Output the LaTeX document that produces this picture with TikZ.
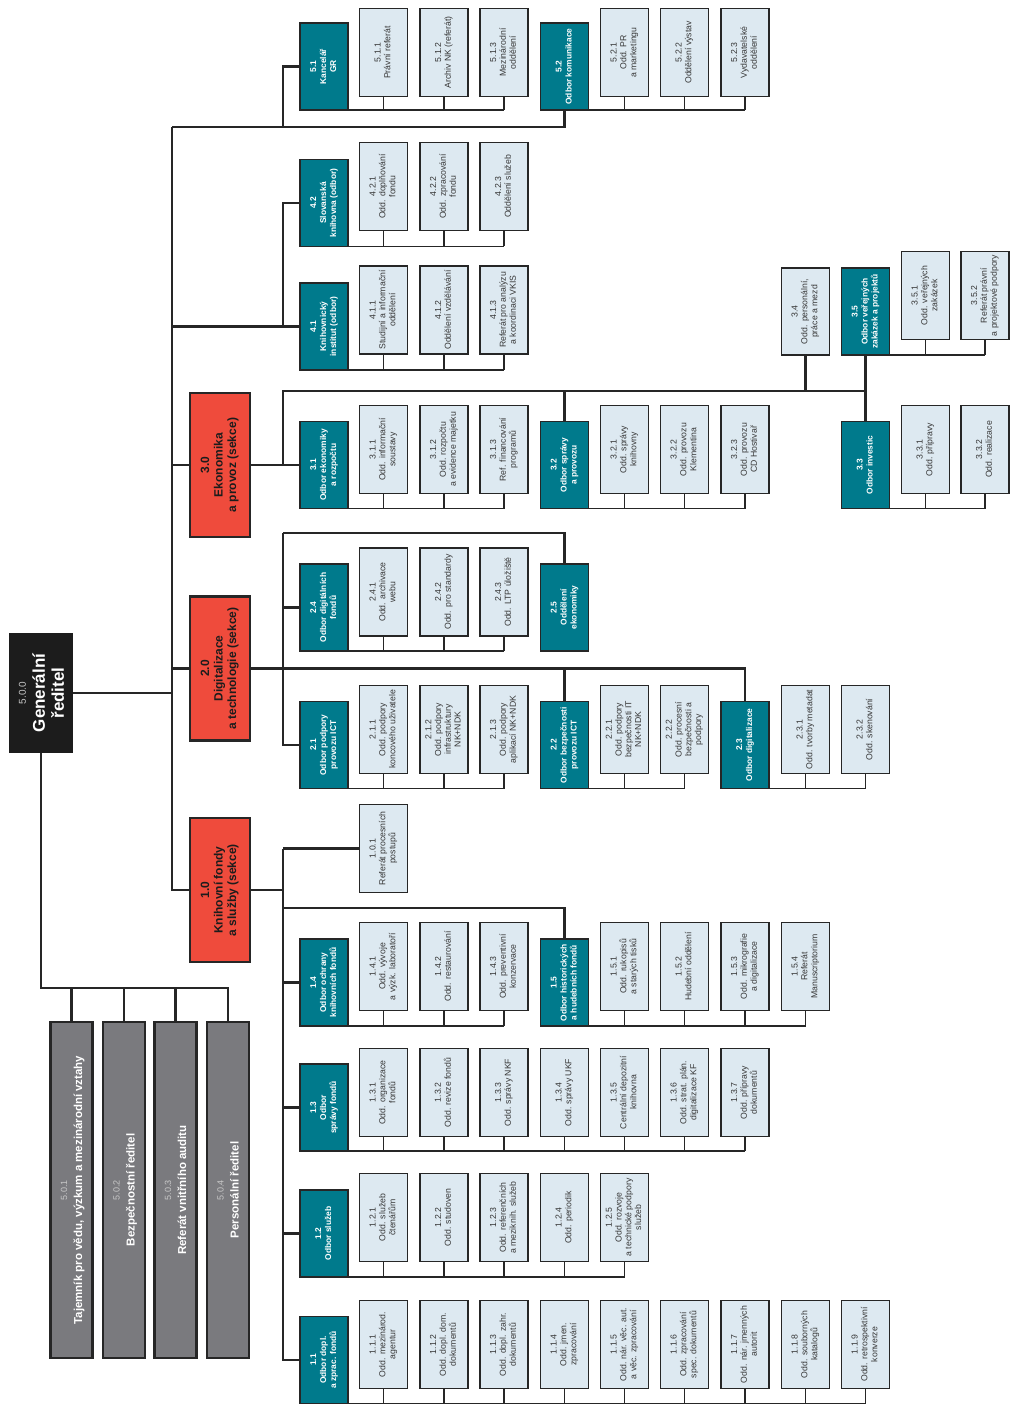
\documentclass[tikz,border=0pt]{standalone}
\usepackage{fontspec}
\setmainfont{Liberation Sans}
\usepackage{graphicx}
\usetikzlibrary{calc}
\definecolor{tealc}{RGB}{0,122,140}
\definecolor{lightc}{RGB}{221,233,241}
\definecolor{redc}{RGB}{239,75,60}
\definecolor{grayc}{RGB}{122,122,126}
\definecolor{blackc}{RGB}{28,28,28}
\definecolor{linec}{RGB}{38,38,38}
\definecolor{txtc}{RGB}{55,55,55}
\definecolor{numc}{RGB}{200,200,200}
\pgfdeclarelayer{background}
\pgfsetlayers{background,main}
\newcommand\rt[1]{\rotatebox{90}{\begin{tabular}{@{}c@{}}#1\end{tabular}}}
\newcommand\grp[3]{\draw[bus] (#1.south east) -- (#1.south east -| #2.south);
  \foreach \c in {#3}{\draw[bus] (\c.south) -- (\c.south |- #1.south);}}
\tikzset{
  boxbase/.style={draw=linec, line width=1.1pt, inner sep=0pt, outer sep=0pt},
  ch/.style={boxbase, fill=lightc, minimum width=48pt, minimum height=88pt, text=txtc,
    font=\fontsize{8.7}{9.8}\selectfont},
  hd/.style={boxbase, fill=tealc, minimum width=48pt, minimum height=87pt, text=white,
    font=\bfseries\fontsize{8.4}{10}\selectfont},
  sek/.style={draw=linec, line width=2.4pt, inner sep=0pt, fill=redc, minimum width=60pt,
    minimum height=144pt, text=blackc, font=\bfseries\fontsize{12}{13.5}\selectfont},
  grb/.style={draw=linec, line width=2.4pt, inner sep=0pt, fill=grayc, minimum width=42pt,
    minimum height=336pt, text=white, font=\bfseries\fontsize{11.5}{15}\selectfont},
  main/.style={draw=linec, line width=2.4pt},
  bus/.style={draw=linec, line width=1.4pt},
}
\begin{document}
\begin{tikzpicture}[x=1pt,y=-1pt]
\useasboundingbox (0,0) rectangle (1009,1404);
% General director
\node[fill=blackc, inner sep=0pt, minimum width=64pt, minimum height=120pt, text=white,
  font=\bfseries\fontsize{17}{19}\selectfont] (gr) at (41,693)
  {\rt{{\mdseries\fontsize{10}{12}\selectfont\color{numc}5.0.0}\\Generální\\ředitel}};
% gray
\node[grb] (g1) at (71.5,1190) {\rt{{\mdseries\fontsize{9}{11}\selectfont\color{numc}5.0.1}\\Tajemník pro vědu, výzkum a mezinárodní vztahy}};
\node[grb] (g2) at (124,1190) {\rt{{\mdseries\fontsize{9}{11}\selectfont\color{numc}5.0.2}\\Bezpečnostní ředitel}};
\node[grb] (g3) at (175.5,1190) {\rt{{\mdseries\fontsize{9}{11}\selectfont\color{numc}5.0.3}\\Referát vnitřního auditu}};
\node[grb] (g4) at (228,1190) {\rt{{\mdseries\fontsize{9}{11}\selectfont\color{numc}5.0.4}\\Personální ředitel}};
% sections
\node[sek] (n30) at (220,465) {\rt{3.0\\Ekonomika\\a provoz (sekce)}};
\node[sek] (n20) at (220,668.5) {\rt{2.0\\Digitalizace\\a technologie (sekce)}};
\node[sek] (n10) at (220,890) {\rt{1.0\\Knihovní fondy\\a služby (sekce)}};
% row 5
\node[hd] (n51) at (324,66.5) {\rt{5.1\\Kancelář\\GR}};
\node[ch] (n511) at (383.5,52.5) {\rt{5.1.1\\Právní referát}};
\node[ch] (n512) at (444,52.5) {\rt{5.1.2\\Archiv NK (referát)}};
\node[ch] (n513) at (504,52.5) {\rt{5.1.3\\Mezinárodní\\oddělení}};
\node[hd] (n52) at (564.5,66.5) {\rt{5.2\\Odbor komunikace}};
\node[ch] (n521) at (624.5,52.5) {\rt{5.2.1\\Odd. PR\\a marketingu}};
\node[ch] (n522) at (684.5,52.5) {\rt{5.2.2\\Oddělení výstav}};
\node[ch] (n523) at (745,52.5) {\rt{5.2.3\\Vydavatelské\\oddělení}};
% row 4.2
\node[hd] (n42) at (324,203) {\rt{4.2\\Slovanská\\knihovna (odbor)}};
\node[ch] (n421) at (383.5,186.5) {\rt{4.2.1\\Odd. doplňování\\fondu}};
\node[ch] (n422) at (444,186.5) {\rt{4.2.2\\Odd. zpracování\\fondu}};
\node[ch] (n423) at (504,186.5) {\rt{4.2.3\\Oddělení služeb}};
% row 4.1
\node[hd] (n41) at (324,326.5) {\rt{4.1\\Knihovnický\\institut (odbor)}};
\node[ch] (n411) at (383.5,310) {\rt{4.1.1\\Studijní a informační\\oddělení}};
\node[ch] (n412) at (444,310) {\rt{4.1.2\\Oddělení vzdělávání}};
\node[ch] (n413) at (504,310) {\rt{4.1.3\\Referát pro analýzu\\a koordinaci VKIS}};
% row 3 upper
\node[ch, minimum height=87pt] (n34) at (805.5,311.5) {\rt{3.4\\Odd. personální,\\práce a mezd}};
\node[hd] (n35) at (865.5,311.5) {\rt{3.5\\Odbor veřejných\\zakázek a projektů}};
\node[ch] (n351) at (925.5,295.5) {\rt{3.5.1\\Odd. veřejných\\zakázek}};
\node[ch] (n352) at (985,295.5) {\rt{3.5.2\\Referát právní\\a projektové podpory}};
% row 3
\node[hd] (n31) at (324,465) {\rt{3.1\\Odbor ekonomiky\\a rozpočtu}};
\node[ch] (n311) at (383.5,449.5) {\rt{3.1.1\\Odd. informační\\soustavy}};
\node[ch] (n312) at (444,449.5) {\rt{3.1.2\\Odd. rozpočtu\\a evidence majetku}};
\node[ch] (n313) at (504,449.5) {\rt{3.1.3\\Ref. financování\\programů}};
\node[hd] (n32) at (564.5,465) {\rt{3.2\\Odbor správy\\a provozu}};
\node[ch] (n321) at (624.5,449.5) {\rt{3.2.1\\Odd. správy\\knihovny}};
\node[ch] (n322) at (684.5,449.5) {\rt{3.2.2\\Odd. provozu\\Klementina}};
\node[ch] (n323) at (745,449.5) {\rt{3.2.3\\Odd. provozu\\CD Hostivař}};
\node[hd] (n33) at (865.5,465) {\rt{3.3\\Odbor investic}};
\node[ch] (n331) at (925.5,449.5) {\rt{3.3.1\\Odd. přípravy}};
\node[ch] (n332) at (985,449.5) {\rt{3.3.2\\Odd. realizace}};
% row 2.4
\node[hd] (n24) at (324,607.5) {\rt{2.4\\Odbor digitálních\\fondů}};
\node[ch] (n241) at (383.5,592) {\rt{2.4.1\\Odd. archivace\\webu}};
\node[ch] (n242) at (444,592) {\rt{2.4.2\\Odd. pro standardy}};
\node[ch] (n243) at (504,592) {\rt{2.4.3\\Odd. LTP úložiště}};
\node[hd] (n25) at (564.5,607.5) {\rt{2.5\\Oddělení\\ekonomiky}};
% row 2.1
\node[hd] (n21) at (324,745) {\rt{2.1\\Odbor podpory\\provozu ICT}};
\node[ch] (n211) at (383.5,729.5) {\rt{2.1.1\\Odd. podpory\\koncového uživatele}};
\node[ch] (n212) at (444,729.5) {\rt{2.1.2\\Odd. podpory\\infrastruktury\\NK+NDK}};
\node[ch] (n213) at (504,729.5) {\rt{2.1.3\\Odd. podpory\\aplikací NK+NDK}};
\node[hd] (n22) at (564.5,745) {\rt{2.2\\Odbor bezpečnosti\\provozu ICT}};
\node[ch] (n221) at (624.5,729.5) {\rt{2.2.1\\Odd. podpory\\bezpečnosti IT\\NK+NDK}};
\node[ch] (n222) at (684.5,729.5) {\rt{2.2.2\\Odd. procesní\\bezpečnosti a\\podpory}};
\node[hd] (n23) at (745,745) {\rt{2.3\\Odbor digitalizace}};
\node[ch] (n231) at (805.5,729.5) {\rt{2.3.1\\Odd. tvorby metadat}};
\node[ch] (n232) at (865.5,729.5) {\rt{2.3.2\\Odd. skenování}};
% 1.0.1
\node[ch] (n101) at (383.5,848.5) {\rt{1.0.1\\Referát procesních\\postupů}};
% row 1.4
\node[hd] (n14) at (324,982.5) {\rt{1.4\\Odbor ochrany\\knihovních fondů}};
\node[ch] (n141) at (383.5,966.5) {\rt{1.4.1\\Odd. vývoje\\a výzk. laboratoří}};
\node[ch] (n142) at (444,966.5) {\rt{1.4.2\\Odd. restaurování}};
\node[ch] (n143) at (504,966.5) {\rt{1.4.3\\Odd. preventivní\\konzervace}};
\node[hd] (n15) at (564.5,982.5) {\rt{1.5\\Odbor historických\\a hudebních fondů}};
\node[ch] (n151) at (624.5,966.5) {\rt{1.5.1\\Odd. rukopisů\\a starých tisků}};
\node[ch] (n152) at (684.5,966.5) {\rt{1.5.2\\Hudební oddělení}};
\node[ch] (n153) at (745,966.5) {\rt{1.5.3\\Odd. mikrografie\\a digitalizace}};
\node[ch] (n154) at (805.5,966.5) {\rt{1.5.4\\Referát\\Manuscriptorium}};
% row 1.3
\node[hd] (n13) at (324,1107.5) {\rt{1.3\\Odbor\\správy fondů}};
\node[ch] (n131) at (383.5,1092.5) {\rt{1.3.1\\Odd. organizace\\fondů}};
\node[ch] (n132) at (444,1092.5) {\rt{1.3.2\\Odd. revize fondů}};
\node[ch] (n133) at (504,1092.5) {\rt{1.3.3\\Odd. správy NKF}};
\node[ch] (n134) at (564.5,1092.5) {\rt{1.3.4\\Odd. správy UKF}};
\node[ch] (n135) at (624.5,1092.5) {\rt{1.3.5\\Centrální depozitní\\knihovna}};
\node[ch] (n136) at (684.5,1092.5) {\rt{1.3.6\\Odd. strat. plán.\\digitalizace KF}};
\node[ch] (n137) at (745,1092.5) {\rt{1.3.7\\Odd. přípravy\\dokumentů}};
% row 1.2
\node[hd] (n12) at (324,1233.5) {\rt{1.2\\Odbor služeb}};
\node[ch] (n121) at (383.5,1217.5) {\rt{1.2.1\\Odd. služeb\\čtenářům}};
\node[ch] (n122) at (444,1217.5) {\rt{1.2.2\\Odd. studoven}};
\node[ch] (n123) at (504,1217.5) {\rt{1.2.3\\Odd. referenčních\\a meziknih. služeb}};
\node[ch] (n124) at (564.5,1217.5) {\rt{1.2.4\\Odd. periodik}};
\node[ch] (n125) at (624.5,1217.5) {\rt{1.2.5\\Odd. rozvoje\\a technické podpory\\služeb}};
% row 1.1
\node[hd] (n11) at (324,1360) {\rt{1.1\\Odbor dopl.\\a zprac. fondů}};
\node[ch] (n111) at (383.5,1344.5) {\rt{1.1.1\\Odd. mezinárod.\\agentur}};
\node[ch] (n112) at (444,1344.5) {\rt{1.1.2\\Odd. dopl. dom.\\dokumentů}};
\node[ch] (n113) at (504,1344.5) {\rt{1.1.3\\Odd. dopl. zahr.\\dokumentů}};
\node[ch] (n114) at (564.5,1344.5) {\rt{1.1.4\\Odd. jmen.\\zpracování}};
\node[ch] (n115) at (624.5,1344.5) {\rt{1.1.5\\Odd. nár. věc. aut.\\a věc. zpracování}};
\node[ch] (n116) at (684.5,1344.5) {\rt{1.1.6\\Odd. zpracování\\spec. dokumentů}};
\node[ch] (n117) at (745,1344.5) {\rt{1.1.7\\Odd. nár. jmenných\\autorit}};
\node[ch] (n118) at (805.5,1344.5) {\rt{1.1.8\\Odd. souborných\\katalogů}};
\node[ch] (n119) at (865.5,1344.5) {\rt{1.1.9\\Odd. retrospektivní\\konverze}};
% connectors
\begin{pgfonlayer}{background}
\fill[white] (0,0) rectangle (1009,1404);
\coordinate (tT) at (172,127);
\coordinate (k5) at (283,127);
\coordinate (k3) at (283,391);
\coordinate (k2) at (283,533);
\coordinate (k1) at (283,908);
\coordinate (kL) at (41,988);
\draw[main] (tT) -- (tT |- n10.west) -- (n10.west);
\draw[main] (gr.east) -- (gr.east -| tT);
\draw[main] (tT) -- (tT -| n52.south) -- (n52.south);
\draw[main] (k5) -- (k5 |- n51.west) -- (n51.west);
\draw[main] (tT |- n41.west) -- (n41.west);
\draw[main] (n41.west -| k5) -- (n42.west -| k5) -- (n42.west);
\draw[main] (tT |- n30.west) -- (n30.west);
\draw[main] (n30.east) -- (n31.west);
\draw[main] (n31.west -| k3) -- (k3) -- (k3 -| n33.north) -- (n33.north);
\draw[main] (n35.south) -- (n35.south |- k3);
\draw[main] (k3 -| n32.north) -- (n32.north);
\draw[main] (n34.south) -- (n34.south |- k3);
\draw[main] (tT |- n20.west) -- (n20.west);
\draw[main] (n20.east) -- (n20.east -| n23.north) -- (n23.north);
\draw[main] (n20.east -| n22.north) -- (n22.north);
\draw[main] (k2) -- (k2 |- n21.west) -- (n21.west);
\draw[main] (k2 |- n24.west) -- (n24.west);
\draw[main] (k2) -- (k2 -| n25.north) -- (n25.north);
\draw[main] (n10.east) -- (n10.east -| k5);
\draw[main] (k5 |- n101.west) -- (n101.west);
\draw[main] (k5 |- n101.west) -- (k5 |- n11.west) -- (n11.west);
\draw[main] (k5 |- n14.west) -- (n14.west);
\draw[main] (k5 |- n13.west) -- (n13.west);
\draw[main] (k5 |- n12.west) -- (n12.west);
\draw[main] (k1) -- (k1 -| n15.north) -- (n15.north);
\draw[main] (gr.south) -- (kL) -- (kL -| g4.north) -- (g4.north);
\draw[main] (kL -| g1.north) -- (g1.north);
\draw[main] (kL -| g2.north) -- (g2.north);
\draw[main] (kL -| g3.north) -- (g3.north);
\grp{n51}{n513}{n511,n512,n513}
\grp{n52}{n523}{n521,n522,n523}
\grp{n42}{n423}{n421,n422,n423}
\grp{n41}{n413}{n411,n412,n413}
\grp{n35}{n352}{n351,n352}
\grp{n31}{n313}{n311,n312,n313}
\grp{n32}{n323}{n321,n322,n323}
\grp{n33}{n332}{n331,n332}
\grp{n24}{n243}{n241,n242,n243}
\grp{n21}{n213}{n211,n212,n213}
\grp{n22}{n222}{n221,n222}
\grp{n23}{n232}{n231,n232}
\grp{n14}{n143}{n141,n142,n143}
\grp{n15}{n154}{n151,n152,n153,n154}
\grp{n13}{n137}{n131,n132,n133,n134,n135,n136,n137}
\grp{n12}{n125}{n121,n122,n123,n124,n125}
\grp{n11}{n119}{n111,n112,n113,n114,n115,n116,n117,n118,n119}
\end{pgfonlayer}
\end{tikzpicture}
\end{document}
